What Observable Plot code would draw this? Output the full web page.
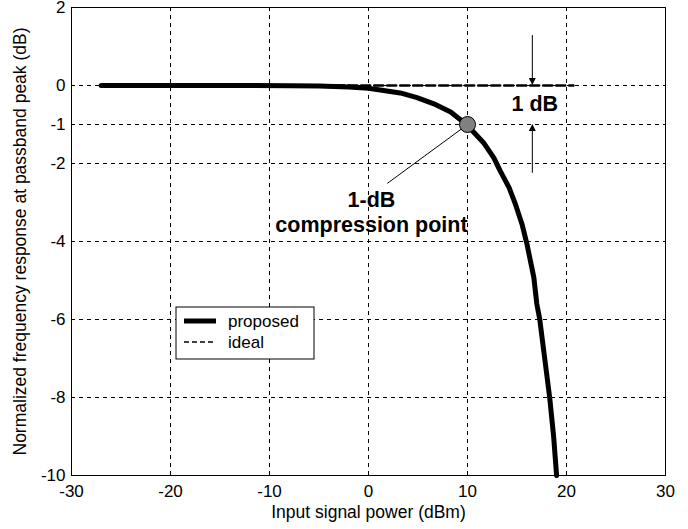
<!DOCTYPE html>
<html>
<head>
<meta charset="utf-8">
<script src="https://cdn.jsdelivr.net/npm/d3@7"></script>
<script src="https://cdn.jsdelivr.net/npm/@observablehq/plot@0.6"></script>
<style>
  body { margin: 0; background: #fff; }
  #chart svg { font-family: "Liberation Sans", Arial, sans-serif; background: #fff; }
</style>
</head>
<body>
<div id="chart"></div>
<script>
// Measured response of the proposed design versus input power
const inputPower = [-27, -15, -8, -5, -2, 0, 3.2, 4.9, 6.6, 8.3, 9.9, 11.6, 12.65, 13.3, 14.2, 14.85, 15.5, 16.0, 16.7, 17.0, 17.3, 17.8, 18.3, 18.7, 19.0];
const response   = [0, 0, -0.005, -0.015, -0.04, -0.07, -0.19, -0.31, -0.47, -0.68, -1.0, -1.46, -1.85, -2.19, -2.62, -3.05, -3.55, -4.06, -4.92, -5.6, -6.0, -7.0, -8.0, -9.0, -10.0];

// Ideal (uncompressed) response
const idealPower = [-27, 20.7];
const idealResponse = [0, 0];

// Axis ticks
const xTicks = [-30, -20, -10, 0, 10, 20, 30];
const yTicks = [2, 0, -1, -2, -4, -6, -8, -10];

// Annotations
const compressionPoint = [{x: 10, y: -1}];
const leader = [{x1: 10, y1: -1, x2: 1.9, y2: -2.51}];
const compressionLabel = [
  {x: 0.3, y: -2.94, text: "1-dB"},
  {x: 0.3, y: -3.58, text: "compression point"}
];
const gapArrows = [
  {x: 16.6, from: 1.28, to: 0},
  {x: 16.6, from: -2.25, to: -1}
];
const gapLabel = [{x: 16.8, y: -0.48, text: "1 dB"}];

const legendItems = [
  {label: "proposed", width: 5, dash: null},
  {label: "ideal", width: 1.3, dash: "5,3"}
];

const xTitle = "Input signal power (dBm)";
const yTitle = "Normalized frequency response at passband peak (dB)";

const line = inputPower.map((x, i) => ({x, y: response[i]}));
const ideal = idealPower.map((x, i) => ({x, y: idealResponse[i]}));

// Vertical dimension arrows with filled heads
function dimensionArrows(index, scales) {
  const g = d3.create("svg:g");
  for (const a of gapArrows) {
    const x = scales.x(a.x), y1 = scales.y(a.from), y2 = scales.y(a.to);
    const dir = Math.sign(y2 - y1);
    g.append("line")
      .attr("x1", x).attr("x2", x)
      .attr("y1", y1).attr("y2", y2 - dir * 4)
      .attr("stroke", "black").attr("stroke-width", 1);
    g.append("path")
      .attr("d", `M${x},${y2}L${x - 3.5},${y2 - dir * 7}L${x + 3.5},${y2 - dir * 7}Z`)
      .attr("fill", "black");
  }
  return g.node();
}

// Boxed legend inside the axes
function legend(index, scales, values, dims) {
  const left = dims.marginLeft + 105, top = dims.marginTop + 300;
  const g = d3.create("svg:g");
  g.append("rect")
    .attr("x", left).attr("y", top).attr("width", 138).attr("height", 52)
    .attr("fill", "white").attr("stroke", "black").attr("stroke-width", 1);
  legendItems.forEach((d, i) => {
    const cy = top + 14 + i * 21;
    g.append("line")
      .attr("x1", left + 8).attr("x2", left + 40)
      .attr("y1", cy).attr("y2", cy)
      .attr("stroke", "black").attr("stroke-width", d.width)
      .attr("stroke-dasharray", d.dash);
    g.append("text")
      .attr("x", left + 52).attr("y", cy).attr("dy", "0.35em")
      .attr("text-anchor", "start")
      .attr("font-size", 17).attr("fill", "black")
      .text(d.label);
  });
  return g.node();
}

const chart = Plot.plot({
  width: 688,
  height: 529,
  marginLeft: 71,
  marginRight: 23,
  marginTop: 7,
  marginBottom: 54,
  x: {domain: [-30, 30]},
  y: {domain: [-10, 2]},
  style: {fontFamily: "Liberation Sans, Arial, sans-serif", fontSize: "17px", color: "black"},
  marks: [
    Plot.gridX(xTicks, {stroke: "black", strokeOpacity: 1, strokeWidth: 1, strokeDasharray: "4,4"}),
    Plot.gridY(yTicks, {stroke: "black", strokeOpacity: 1, strokeWidth: 1, strokeDasharray: "4,4"}),
    Plot.axisX({ticks: xTicks, tickSize: 0, tickPadding: 9, label: null, fontSize: 17, tickFormat: d => String(d)}),
    Plot.axisY({ticks: yTicks, tickSize: 0, tickPadding: 6, label: null, fontSize: 17, tickFormat: d => String(d)}),
    Plot.text([xTitle], {text: d => d, frameAnchor: "bottom", dy: 42, fontSize: 17.5, fill: "black"}),
    Plot.text([yTitle], {text: d => d, frameAnchor: "left", textAnchor: "middle", rotate: -90, dx: -51, fontSize: 17.5, fill: "black"}),
    Plot.line(ideal, {x: "x", y: "y", stroke: "black", strokeWidth: 2.5, strokeDasharray: "9,4"}),
    Plot.line(line, {x: "x", y: "y", stroke: "black", strokeWidth: 5, strokeLinejoin: "round"}),
    Plot.link(leader, {x1: "x1", y1: "y1", x2: "x2", y2: "y2", stroke: "black", strokeWidth: 1}),
    Plot.dot(compressionPoint, {x: "x", y: "y", r: 8, fill: "#808080", stroke: "black", strokeWidth: 1}),
    dimensionArrows,
    Plot.text(gapLabel, {x: "x", y: "y", text: "text", fontSize: 21.5, fontWeight: "bold", fill: "black"}),
    Plot.text(compressionLabel, {x: "x", y: "y", text: "text", fontSize: 21.5, fontWeight: "bold", fill: "black"}),
    legend,
    Plot.frame({stroke: "black", strokeWidth: 1})
  ]
});

document.getElementById("chart").append(chart);
</script>
</body>
</html>
